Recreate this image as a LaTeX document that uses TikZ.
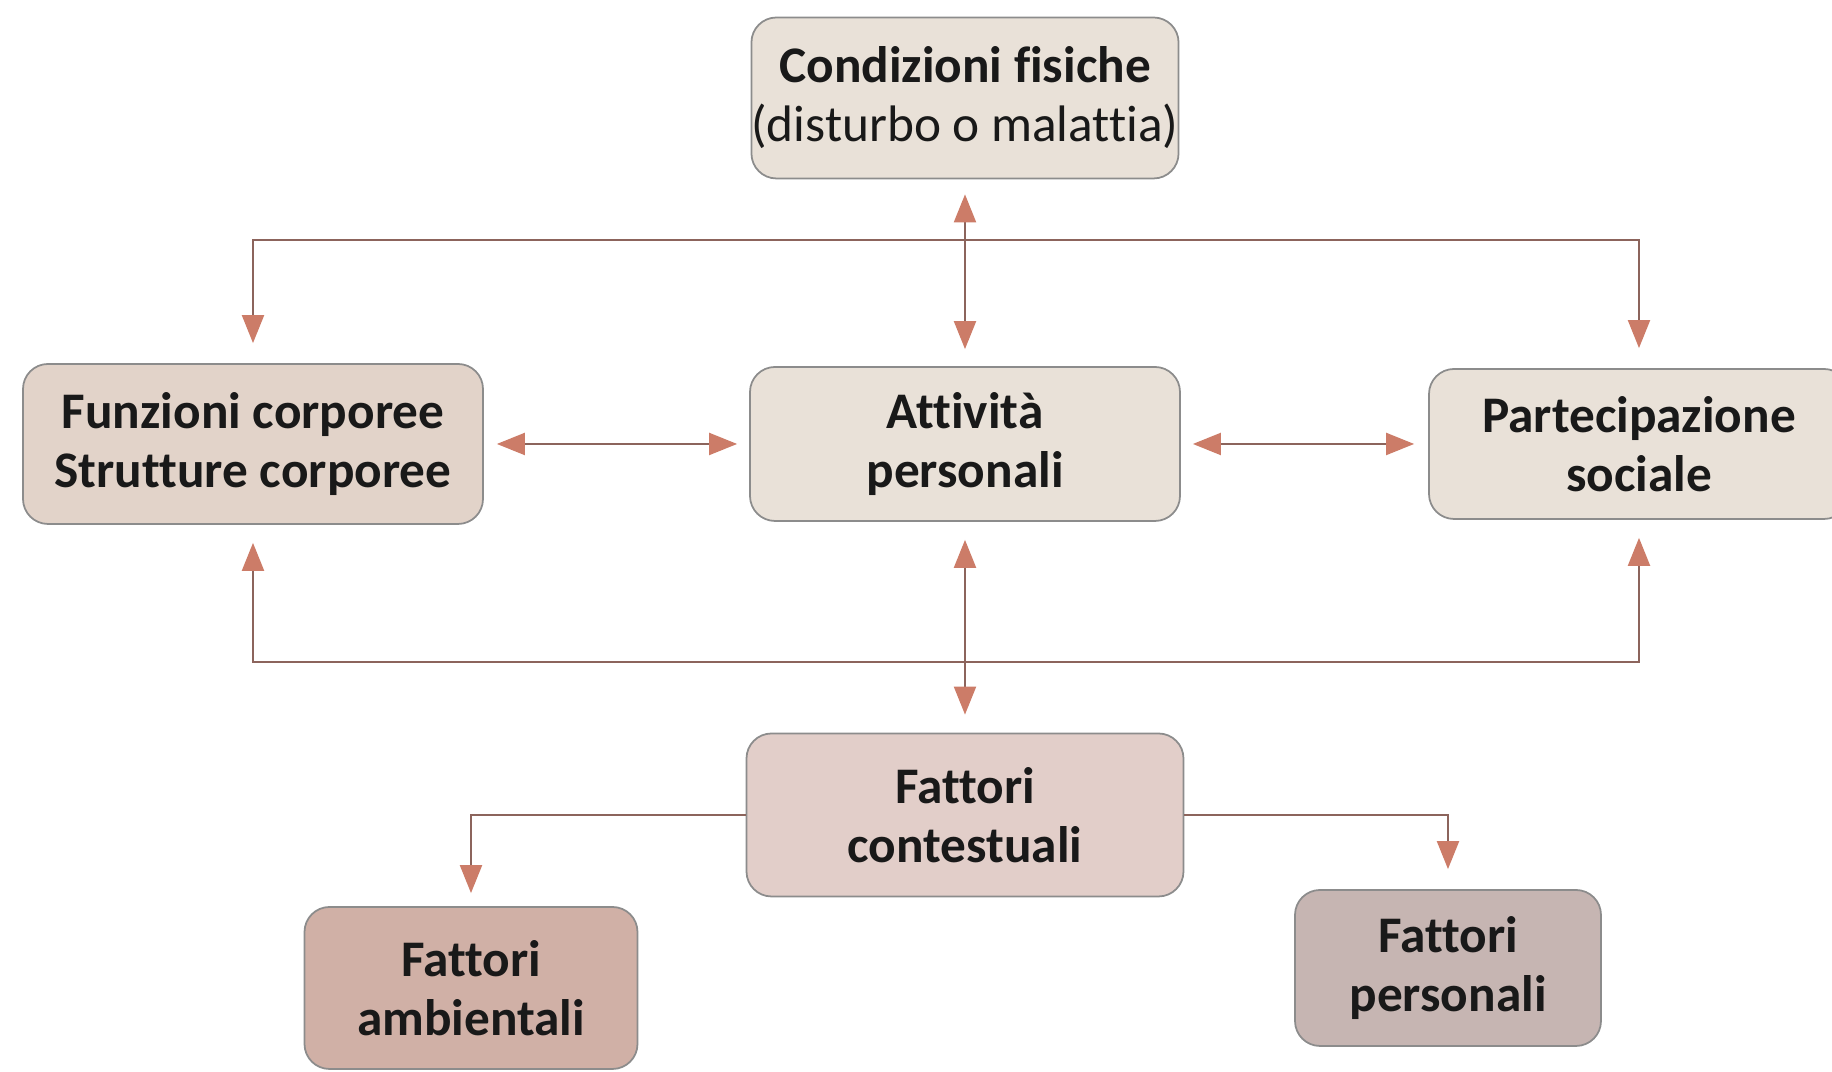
\documentclass[tikz,border=0pt]{standalone}
\usepackage{fontspec}
\setmainfont[Ligatures={NoCommon,NoContextual,NoRequired}]{Carlito}
\usetikzlibrary{arrows.meta}
\definecolor{freccia}{RGB}{204,124,104}
\definecolor{linea}{RGB}{140,100,92}
\definecolor{fondoA}{RGB}{233,225,216}
\definecolor{fondoB}{RGB}{226,211,201}
\definecolor{fondoC}{RGB}{226,206,201}
\definecolor{fondoD}{RGB}{208,176,166}
\definecolor{fondoE}{RGB}{198,181,178}
\begin{document}
\begin{tikzpicture}[
    box/.style={draw=black!45, line width=0.5pt, rounded corners=0.25cm, align=center, inner sep=0pt,
        text=black!90, font=\bfseries\fontsize{14.6}{16.8}\selectfont},
    >={Triangle[length=0.28cm, width=0.22cm, color=freccia]},
    every path/.style={line width=0.6pt}
]
    \useasboundingbox (0,0) rectangle (18.32,10.72);

    \node[box, fill=fondoA, minimum width=4.26cm, minimum height=1.61cm] (cond) at (9.65,9.74)
        {Condizioni fisiche\\{\mdseries (disturbo o malattia)}};
    \node[box, fill=fondoB, minimum width=4.60cm, minimum height=1.60cm] (funz) at (2.53,6.28)
        {Funzioni corporee\\Strutture corporee};
    \node[box, fill=fondoA, minimum width=4.30cm, minimum height=1.54cm] (att) at (9.65,6.28)
        {Attività\\personali};
    \node[box, fill=fondoA, minimum width=4.20cm, minimum height=1.50cm] (part) at (16.39,6.28)
        {Partecipazione\\sociale};
    \node[box, fill=fondoC, minimum width=4.37cm, minimum height=1.63cm] (cont) at (9.65,2.57)
        {Fattori\\contestuali};
    \node[box, fill=fondoD, minimum width=3.33cm, minimum height=1.62cm] (amb) at (4.71,0.84)
        {Fattori\\ambientali};
    \node[box, fill=fondoE, minimum width=3.06cm, minimum height=1.56cm] (pers) at (14.48,1.04)
        {Fattori\\personali};

    \coordinate (sopra) at (9.65,8.32);
    \coordinate (sotto) at (9.65,4.10);

    % linee in alto
    \draw[linea, ->, shorten >=0.2cm] (sopra) -| (funz.north);
    \draw[linea, ->, shorten >=0.2cm] (sopra) -| (part.north);
    \draw[linea, <->, shorten <=0.15cm, shorten >=0.17cm] (cond.south) -- (att.north);

    % frecce orizzontali
    \draw[linea, <->, shorten <=0.13cm, shorten >=0.12cm] (funz.east) -- (att.west);
    \draw[linea, <->, shorten <=0.12cm, shorten >=0.14cm] (att.east) -- (part.west);

    % linee in basso
    \draw[linea, ->, shorten >=0.18cm] (sotto) -| (funz.south);
    \draw[linea, ->, shorten >=0.18cm] (sotto) -| (part.south);
    \draw[linea, <->, shorten <=0.18cm, shorten >=0.18cm] (att.south) -- (cont.north);

    % fattori contestuali
    \draw[linea, ->, shorten >=0.13cm] (cont.west) -| (amb.north);
    \draw[linea, ->, shorten >=0.2cm] (cont.east) -| (pers.north);
\end{tikzpicture}
\end{document}
